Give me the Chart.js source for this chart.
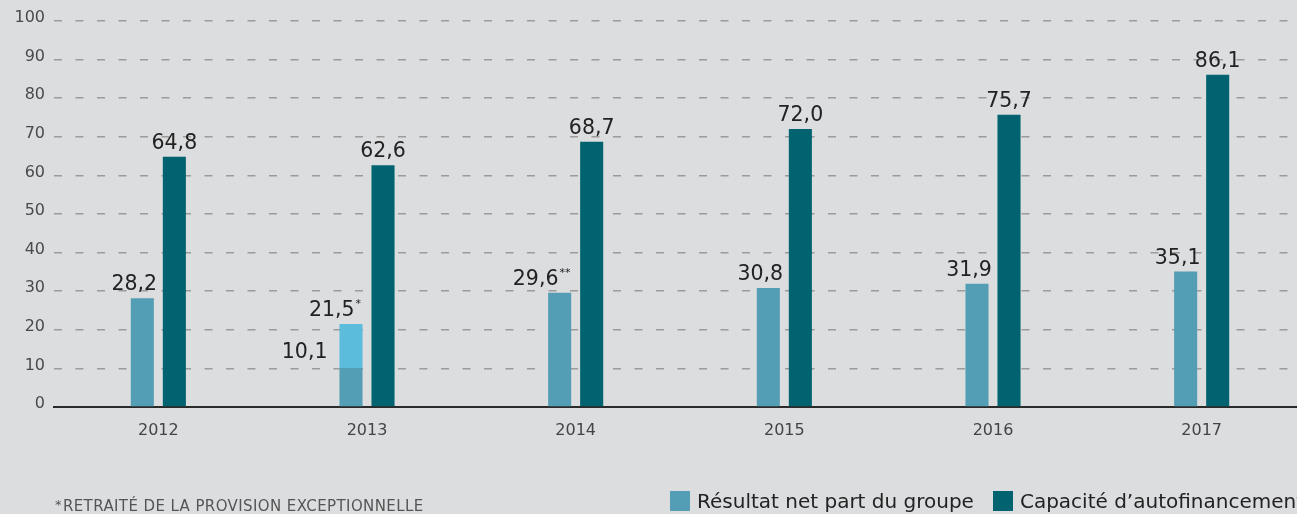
<!DOCTYPE html>
<html lang="fr">
<head>
<meta charset="utf-8">
<script src="https://cdn.jsdelivr.net/npm/chart.js@4.4.0/dist/chart.umd.min.js"></script>
<style>
    html, body { margin: 0; padding: 0; background: #dcdddf; overflow: hidden; }
    #wrap { position: relative; width: 1297px; height: 514px; overflow: hidden; }
    #chart { position: absolute; left: 0; top: 0; }
    .note {
        position: absolute; left: 55px; top: 497px;
        font: 15px "DejaVu Sans", sans-serif; color: #555; white-space: nowrap;
        letter-spacing: 0.4px;
    }
    .note span { font-size: 13px; position: relative; top: -2px; margin-right: 1px; }
    #legend {
        position: absolute; left: 670px; top: 489px;
        display: flex; align-items: center; white-space: nowrap;
        font: 20px "DejaVu Sans", sans-serif; color: #222;
    }
    .legend-item { display: flex; align-items: center; margin-right: 19px; }
    .legend-box { width: 20px; height: 20px; margin-right: 7px; }
</style>
</head>
<body>
<div id="wrap">
    <canvas id="chart" width="1310" height="514"></canvas>
    <div class="note"><span>*</span>RETRAITÉ DE LA PROVISION EXCEPTIONNELLE</div>
    <div id="legend"></div>
</div>
<script>
const years = ['2012', '2013', '2014', '2015', '2016', '2017'];
const resultatNet = [28.2, 10.1, 29.6, 30.8, 31.9, 35.1];
const resultatRetraite = [null, 21.5, null, null, null, null];
const capaciteAutofinancement = [64.8, 62.6, 68.7, 72.0, 75.7, 86.1];
const resultatNotes = ['', '*', '**', '', '', ''];
const yTicks = [0, 10, 20, 30, 40, 50, 60, 70, 80, 90, 100];

const seriesNames = ['Résultat net part du groupe', 'Capacité d’autofinancement'];
const colors = {
    resultat: '#549eb5',
    retraite: '#5bbcdc',
    caf: '#00636f'
};

const valueFont = '20.5px "DejaVu Sans", sans-serif';
const noteFont = '11px "DejaVu Sans", sans-serif';

function formatValue(v) {
    return v.toFixed(1).replace('.', ',');
}

// draws value + optional superscript note, centred on x (or right aligned)
function drawLabel(ctx, text, note, x, baseline, align) {
    ctx.font = valueFont;
    const w = ctx.measureText(text).width;
    ctx.font = noteFont;
    const nw = note ? ctx.measureText(note).width + 1 : 0;
    const left = align === 'right' ? x - w - nw : x - (w + nw) / 2;
    ctx.textAlign = 'left';
    ctx.textBaseline = 'alphabetic';
    ctx.font = valueFont;
    ctx.fillText(text, left, baseline);
    if (note) {
        ctx.font = noteFont;
        ctx.fillText(note, left + w + 1, baseline - 9);
    }
}

const valueLabels = {
    id: 'valueLabels',
    afterDatasetsDraw(chart) {
        const ctx = chart.ctx;
        ctx.save();
        ctx.fillStyle = '#222';
        // résultat net
        chart.getDatasetMeta(0).data.forEach((bar, i) => {
            if (resultatRetraite[i] != null) {
                drawLabel(ctx, formatValue(resultatNet[i]), '', bar.x - bar.width / 2 - 12, bar.y - 10, 'right');
            } else {
                const shift = resultatNotes[i] ? -18 : -8;
                drawLabel(ctx, formatValue(resultatNet[i]), resultatNotes[i], bar.x + shift, bar.y - 8);
            }
        });
        // résultat retraité (2013)
        chart.getDatasetMeta(1).data.forEach((bar, i) => {
            if (resultatRetraite[i] == null) return;
            drawLabel(ctx, formatValue(resultatRetraite[i]), resultatNotes[i], bar.x - 16, bar.y - 8);
        });
        // CAF
        chart.getDatasetMeta(2).data.forEach((bar, i) => {
            drawLabel(ctx, formatValue(capaciteAutofinancement[i]), '', bar.x, bar.y - 8);
        });
        ctx.restore();
    }
};

Chart.defaults.font.family = '"DejaVu Sans", sans-serif';

new Chart(document.getElementById('chart'), {
    type: 'bar',
    data: {
        labels: years,
        datasets: [
            {
                label: seriesNames[0],
                data: resultatNet,
                backgroundColor: colors.resultat,
                stack: 'resultat'
            },
            {
                label: 'retraité',
                data: resultatRetraite.map((v, i) => v == null ? null : [resultatNet[i], v]),
                backgroundColor: colors.retraite,
                stack: 'resultat'
            },
            {
                label: seriesNames[1],
                data: capaciteAutofinancement,
                backgroundColor: colors.caf,
                stack: 'caf'
            }
        ]
    },
    options: {
        responsive: false,
        animation: false,
        categoryPercentage: 0.307,
        barPercentage: 0.72,
        layout: { padding: { top: 21, right: 4, left: 0, bottom: 0 } },
        plugins: {
            legend: { display: false },
            tooltip: { enabled: false }
        },
        scales: {
            x: {
                stacked: true,
                grid: { display: false, drawTicks: false },
                border: { display: true, color: '#2a2a2a', width: 2 },
                ticks: { color: '#444', font: { size: 16 }, padding: 14 },
                afterFit: axis => { axis.height = 107; }
            },
            y: {
                stacked: false,
                min: 0,
                max: 100,
                afterBuildTicks: axis => { axis.ticks = yTicks.map(v => ({ value: v })); },
                grid: {
                    drawTicks: false,
                    color: c => c.tick && c.tick.value === 0 ? 'rgba(0,0,0,0)' : '#9b9b9b',
                    lineWidth: 1.5
                },
                border: { display: false, dash: [8, 13.5] },
                ticks: { color: '#4a4a4a', font: { size: 16 }, padding: 9, labelOffset: -3 },
                afterFit: axis => { axis.width = 54; }
            }
        }
    },
    plugins: [valueLabels]
});

// html legend
const legend = document.getElementById('legend');
[[seriesNames[0], colors.resultat], [seriesNames[1], colors.caf]].forEach(([name, color]) => {
    const item = document.createElement('div');
    item.className = 'legend-item';
    item.innerHTML = `<span class="legend-box" style="background:${color}"></span><span>${name}</span>`;
    legend.appendChild(item);
});
</script>
</body>
</html>
